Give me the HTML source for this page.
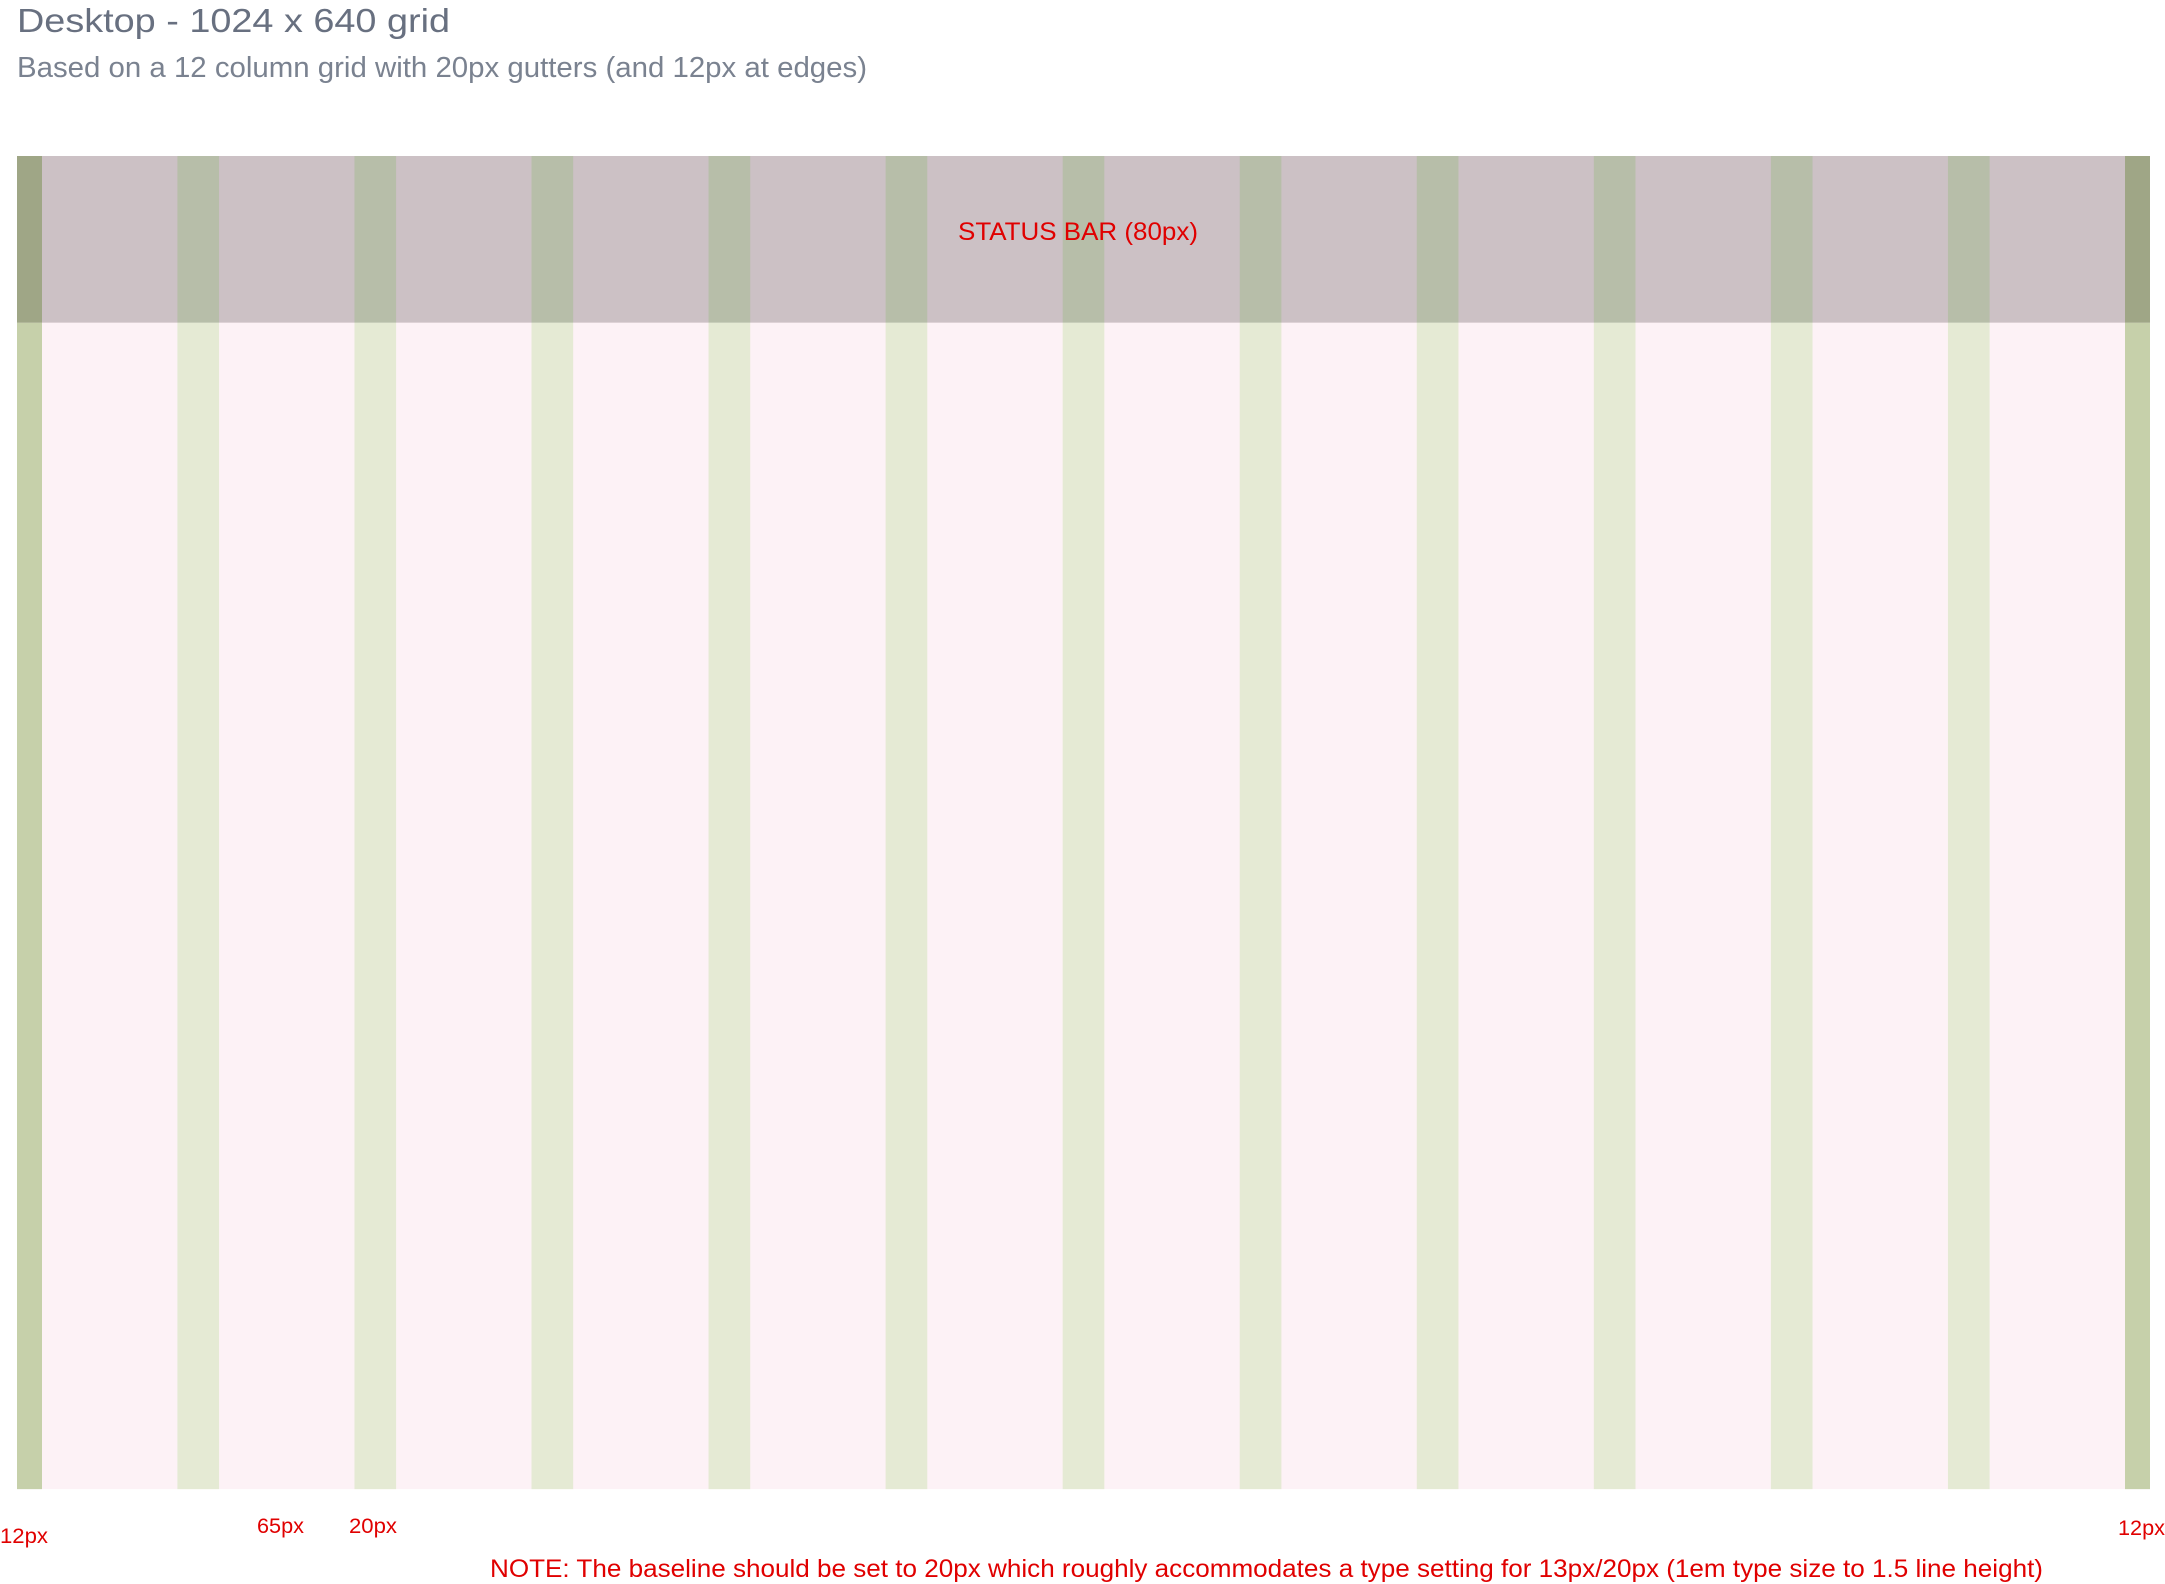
<!DOCTYPE html>
<html><head><meta charset="utf-8"><style>
html,body{margin:0;padding:0;background:#fff;width:2165px;height:1584px;overflow:hidden}
svg{display:block}
text{font-family:"Liberation Sans",sans-serif}
</style></head><body>
<svg id="s" width="2165" height="1584" xmlns="http://www.w3.org/2000/svg">
<text x="17" y="32" font-size="33" fill="#687080" textLength="433" lengthAdjust="spacingAndGlyphs">Desktop - 1024 x 640 grid</text>
<text x="17" y="77" font-size="29" fill="#7a8290" textLength="850" lengthAdjust="spacingAndGlyphs">Based on a 12 column grid with 20px gutters (and 12px at edges)</text>
<g id="grid"></g>
<text x="1078" y="240" font-size="25" fill="#e00000" text-anchor="middle" textLength="240" lengthAdjust="spacingAndGlyphs">STATUS BAR (80px)</text>
<text x="0" y="1543" font-size="21" fill="#e00000" textLength="48" lengthAdjust="spacingAndGlyphs">12px</text>
<text x="257" y="1533" font-size="21" fill="#e00000" textLength="47" lengthAdjust="spacingAndGlyphs">65px</text>
<text x="349" y="1533" font-size="21" fill="#e00000" textLength="48" lengthAdjust="spacingAndGlyphs">20px</text>
<text x="2118" y="1535" font-size="21" fill="#e00000" textLength="47" lengthAdjust="spacingAndGlyphs">12px</text>
<text x="490" y="1577" font-size="25" fill="#e00000" textLength="1553" lengthAdjust="spacingAndGlyphs">NOTE: The baseline should be set to 20px which roughly accommodates a type setting for 13px/20px (1em type size to 1.5 line height)</text>
</svg>
<script>
const gridWidth = [1024];
const gridHeight = [640];
const statusHeight = [80];
const edge = [12];
const gutter = [20];
const columns = [12];
const colW = [65];
(function(){
  const NS="http://www.w3.org/2000/svg";
  const g=document.getElementById('grid');
  const x0=17,y0=156,sc=2133/gridWidth[0];
  const H=gridHeight[0]*sc, SH=statusHeight[0]*sc;
  function r(x,y,w,h,fill,name){
    const e=document.createElementNS(NS,'rect');
    e.setAttribute('x',x);e.setAttribute('y',y);e.setAttribute('width',w);e.setAttribute('height',h);e.setAttribute('fill',fill);
    
    
    g.appendChild(e);
  }
  r(x0,y0,gridWidth[0]*sc,H,'#fdf2f6','grid-background');
  r(x0,y0,gridWidth[0]*sc,SH,'#ccc1c5','status-bar');
  // edges
  const ew=edge[0]*sc;
  r(x0,y0+SH,ew,H-SH,'#c6d0aa','left-edge');
  r(x0,y0,ew,SH,'#9fa686','left-edge-status');
  const rx=x0+(gridWidth[0]-edge[0])*sc;
  r(rx,y0+SH,ew,H-SH,'#c6d0aa','right-edge');
  r(rx,y0,ew,SH,'#9fa686','right-edge-status');
  for(let i=1;i<columns[0];i++){
    const x=x0+(edge[0]+i*colW[0]+(i-1)*gutter[0])*sc;
    r(x,y0+SH,gutter[0]*sc,H-SH,'#e5ead4','gutter');
    r(x,y0,gutter[0]*sc,SH,'#b7bea9','gutter-status');
  }
})();
</script>
</body></html>
